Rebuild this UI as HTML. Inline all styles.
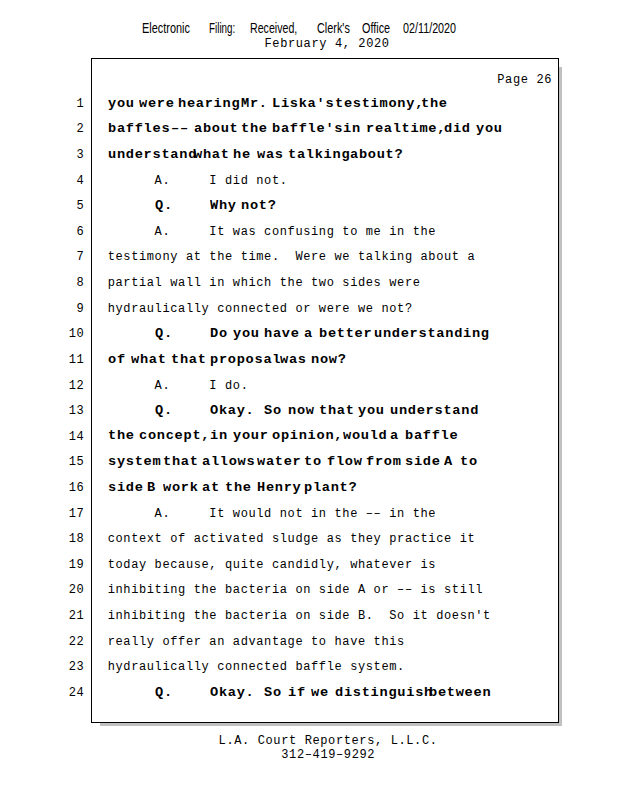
<!DOCTYPE html>
<html><head><meta charset="utf-8"><title>Page 26</title>
<style>
html,body{margin:0;padding:0;background:#fff;}
body{width:618px;height:800px;position:relative;overflow:hidden;color:#000;font-family:"Liberation Mono",monospace;}
.a{position:absolute;white-space:pre;line-height:16px;height:16px;}
.r{font:normal 12.0px/16px "Liberation Mono",monospace;letter-spacing:0.62px;}
.b{font:bold 13.0px/16px "Liberation Mono",monospace;letter-spacing:0.68px;transform:scaleX(1.05);transform-origin:0 0;}
.s{font:normal 14.3px/16px "Liberation Sans",sans-serif;transform-origin:0 0;}
.box{position:absolute;left:91px;top:58px;width:466px;height:663px;border:1px solid #000;background:#fff;}
.sh{position:absolute;background:#c0c0c0;}
</style></head><body>
<div class="sh" style="left:559px;top:67px;width:3px;height:659px"></div>
<div class="sh" style="left:100px;top:723px;width:462px;height:3px"></div>
<div class="box"></div>

<div class="a s" style="left:142.10px;top:19.9px;transform:scaleX(0.763)">Electronic</div>
<div class="a s" style="left:208.90px;top:19.9px;transform:scaleX(0.688)">Filing:</div>
<div class="a s" style="left:249.80px;top:19.9px;transform:scaleX(0.744)">Received,</div>
<div class="a s" style="left:316.50px;top:19.9px;transform:scaleX(0.759)">Clerk&#x27;s</div>
<div class="a s" style="left:362.30px;top:19.9px;transform:scaleX(0.757)">Office</div>
<div class="a s" style="left:403.40px;top:19.9px;transform:scaleX(0.753)">02/11/2020</div>
<div class="a r" style="left:264.50px;top:35.60px">February 4, 2020</div>
<div class="a r" style="left:497.30px;top:71.80px">Page 26</div>
<div class="a r" style="left:218.60px;top:732.80px">L.A. Court Reporters, L.L.C.</div>
<div class="a r" style="left:281.30px;top:746.90px">312–419–9292</div>
<div class="a r" style="left:76.48px;top:95.80px">1</div>
<div class="a b" style="left:108.00px;top:95.53px">you</div>
<div class="a b" style="left:139.28px;top:95.53px">were</div>
<div class="a b" style="left:178.38px;top:95.53px">hearing</div>
<div class="a b" style="left:240.94px;top:95.53px">Mr.</div>
<div class="a b" style="left:272.22px;top:95.53px">Liska&#x27;s</div>
<div class="a b" style="left:334.78px;top:95.53px">testimony,</div>
<div class="a b" style="left:420.80px;top:95.53px">the</div>
<div class="a r" style="left:76.48px;top:121.41px">2</div>
<div class="a b" style="left:108.00px;top:121.14px">baffles</div>
<div class="a b" style="left:170.56px;top:121.14px">––</div>
<div class="a b" style="left:194.02px;top:121.14px">about</div>
<div class="a b" style="left:240.94px;top:121.14px">the</div>
<div class="a b" style="left:272.22px;top:121.14px">baffle&#x27;s</div>
<div class="a b" style="left:342.60px;top:121.14px">in</div>
<div class="a b" style="left:366.06px;top:121.14px">realtime,</div>
<div class="a b" style="left:444.26px;top:121.14px">did</div>
<div class="a b" style="left:475.54px;top:121.14px">you</div>
<div class="a r" style="left:76.48px;top:147.02px">3</div>
<div class="a b" style="left:108.00px;top:146.75px">understand</div>
<div class="a b" style="left:194.02px;top:146.75px">what</div>
<div class="a b" style="left:233.12px;top:146.75px">he</div>
<div class="a b" style="left:256.58px;top:146.75px">was</div>
<div class="a b" style="left:287.86px;top:146.75px">talking</div>
<div class="a b" style="left:350.42px;top:146.75px">about?</div>
<div class="a r" style="left:76.48px;top:172.63px">4</div>
<div class="a r" style="left:154.62px;top:172.63px">A.     I did not.</div>
<div class="a r" style="left:76.48px;top:198.24px">5</div>
<div class="a b" style="left:154.92px;top:197.97px">Q.</div>
<div class="a b" style="left:209.66px;top:197.97px">Why</div>
<div class="a b" style="left:240.94px;top:197.97px">not?</div>
<div class="a r" style="left:76.48px;top:223.85px">6</div>
<div class="a r" style="left:154.62px;top:223.85px">A.     It was confusing to me in the</div>
<div class="a r" style="left:76.48px;top:249.46px">7</div>
<div class="a r" style="left:107.70px;top:249.46px">testimony at the time.  Were we talking about a</div>
<div class="a r" style="left:76.48px;top:275.07px">8</div>
<div class="a r" style="left:107.70px;top:275.07px">partial wall in which the two sides were</div>
<div class="a r" style="left:76.48px;top:300.68px">9</div>
<div class="a r" style="left:107.70px;top:300.68px">hydraulically connected or were we not?</div>
<div class="a r" style="left:68.66px;top:326.29px">10</div>
<div class="a b" style="left:154.92px;top:326.02px">Q.</div>
<div class="a b" style="left:209.66px;top:326.02px">Do</div>
<div class="a b" style="left:233.12px;top:326.02px">you</div>
<div class="a b" style="left:264.40px;top:326.02px">have</div>
<div class="a b" style="left:303.50px;top:326.02px">a</div>
<div class="a b" style="left:319.14px;top:326.02px">better</div>
<div class="a b" style="left:373.88px;top:326.02px">understanding</div>
<div class="a r" style="left:68.66px;top:351.90px">11</div>
<div class="a b" style="left:108.00px;top:351.63px">of</div>
<div class="a b" style="left:131.46px;top:351.63px">what</div>
<div class="a b" style="left:170.56px;top:351.63px">that</div>
<div class="a b" style="left:209.66px;top:351.63px">proposal</div>
<div class="a b" style="left:280.04px;top:351.63px">was</div>
<div class="a b" style="left:311.32px;top:351.63px">now?</div>
<div class="a r" style="left:68.66px;top:377.51px">12</div>
<div class="a r" style="left:154.62px;top:377.51px">A.     I do.</div>
<div class="a r" style="left:68.66px;top:403.12px">13</div>
<div class="a b" style="left:154.92px;top:402.85px">Q.</div>
<div class="a b" style="left:209.66px;top:402.85px">Okay.</div>
<div class="a b" style="left:264.40px;top:402.85px">So</div>
<div class="a b" style="left:287.86px;top:402.85px">now</div>
<div class="a b" style="left:319.14px;top:402.85px">that</div>
<div class="a b" style="left:358.24px;top:402.85px">you</div>
<div class="a b" style="left:389.52px;top:402.85px">understand</div>
<div class="a r" style="left:68.66px;top:428.73px">14</div>
<div class="a b" style="left:108.00px;top:428.46px">the</div>
<div class="a b" style="left:139.28px;top:428.46px">concept,</div>
<div class="a b" style="left:209.66px;top:428.46px">in</div>
<div class="a b" style="left:233.12px;top:428.46px">your</div>
<div class="a b" style="left:272.22px;top:428.46px">opinion,</div>
<div class="a b" style="left:342.60px;top:428.46px">would</div>
<div class="a b" style="left:389.52px;top:428.46px">a</div>
<div class="a b" style="left:405.16px;top:428.46px">baffle</div>
<div class="a r" style="left:68.66px;top:454.34px">15</div>
<div class="a b" style="left:108.00px;top:454.07px">system</div>
<div class="a b" style="left:162.74px;top:454.07px">that</div>
<div class="a b" style="left:201.84px;top:454.07px">allows</div>
<div class="a b" style="left:256.58px;top:454.07px">water</div>
<div class="a b" style="left:303.50px;top:454.07px">to</div>
<div class="a b" style="left:326.96px;top:454.07px">flow</div>
<div class="a b" style="left:366.06px;top:454.07px">from</div>
<div class="a b" style="left:405.16px;top:454.07px">side</div>
<div class="a b" style="left:444.26px;top:454.07px">A</div>
<div class="a b" style="left:459.90px;top:454.07px">to</div>
<div class="a r" style="left:68.66px;top:479.95px">16</div>
<div class="a b" style="left:108.00px;top:479.68px">side</div>
<div class="a b" style="left:147.10px;top:479.68px">B</div>
<div class="a b" style="left:162.74px;top:479.68px">work</div>
<div class="a b" style="left:201.84px;top:479.68px">at</div>
<div class="a b" style="left:225.30px;top:479.68px">the</div>
<div class="a b" style="left:256.58px;top:479.68px">Henry</div>
<div class="a b" style="left:303.50px;top:479.68px">plant?</div>
<div class="a r" style="left:68.66px;top:505.56px">17</div>
<div class="a r" style="left:154.62px;top:505.56px">A.     It would not in the –– in the</div>
<div class="a r" style="left:68.66px;top:531.17px">18</div>
<div class="a r" style="left:107.70px;top:531.17px">context of activated sludge as they practice it</div>
<div class="a r" style="left:68.66px;top:556.78px">19</div>
<div class="a r" style="left:107.70px;top:556.78px">today because, quite candidly, whatever is</div>
<div class="a r" style="left:68.66px;top:582.39px">20</div>
<div class="a r" style="left:107.70px;top:582.39px">inhibiting the bacteria on side A or –– is still</div>
<div class="a r" style="left:68.66px;top:608.00px">21</div>
<div class="a r" style="left:107.70px;top:608.00px">inhibiting the bacteria on side B.  So it doesn&#x27;t</div>
<div class="a r" style="left:68.66px;top:633.61px">22</div>
<div class="a r" style="left:107.70px;top:633.61px">really offer an advantage to have this</div>
<div class="a r" style="left:68.66px;top:659.22px">23</div>
<div class="a r" style="left:107.70px;top:659.22px">hydraulically connected baffle system.</div>
<div class="a r" style="left:68.66px;top:684.83px">24</div>
<div class="a b" style="left:154.92px;top:684.56px">Q.</div>
<div class="a b" style="left:209.66px;top:684.56px">Okay.</div>
<div class="a b" style="left:264.40px;top:684.56px">So</div>
<div class="a b" style="left:287.86px;top:684.56px">if</div>
<div class="a b" style="left:311.32px;top:684.56px">we</div>
<div class="a b" style="left:334.78px;top:684.56px">distinguish</div>
<div class="a b" style="left:428.62px;top:684.56px">between</div>
</body></html>
